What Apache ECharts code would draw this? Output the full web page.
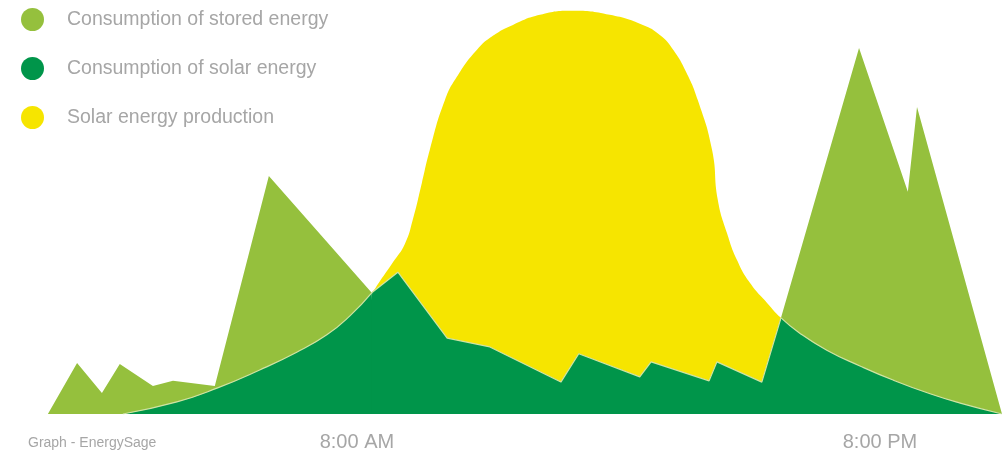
<!DOCTYPE html>
<html>
<head>
<meta charset="utf-8">
<script src="https://cdn.jsdelivr.net/npm/echarts@6.0.0/dist/echarts.min.js"></script>
<style>
    html, body { margin: 0; padding: 0; background: #fff; }
    #container { width: 1007px; height: 456px; }
</style>
</head>
<body>
<div id="container"></div>
<script>
// hours of the day / relative energy (0-100)
var seriesNames = ['Consumption of stored energy', 'Consumption of solar energy', 'Solar energy production'];

var consumptionHours = [0.91, 1.58, 2.15, 2.56, 3.32, 3.78, 4.74, 5.98, 8.34, 8.94, 10.07, 11.05, 12.68, 13.09, 14.49, 14.75, 16.08, 16.26, 17.29, 17.73, 19.52, 20.64, 20.85, 22.80];
var consumptionValues = [0, 12.6, 5.2, 12.4, 6.9, 8.2, 6.9, 58.9, 30.0, 35.1, 18.8, 16.6, 7.9, 14.9, 9.2, 12.9, 8.2, 12.9, 7.9, 23.8, 90.6, 55.0, 76.0, 0];

var solarHours = [2.63, 3.87, 4.79, 5.77, 6.62, 7.31, 7.84, 8.34, 8.53, 8.83, 9.10, 9.28, 9.49, 9.67, 10.02, 10.32, 10.75, 11.12, 11.58, 12.20, 12.93, 13.80, 14.56, 14.95, 15.26, 15.55, 15.82, 16.15, 16.28, 16.49, 16.72, 17.02, 17.41, 17.73, 18.16, 18.78, 19.54, 20.30, 21.15, 21.84, 22.80];
var solarValues = [0, 3.0, 6.4, 10.9, 15.3, 19.6, 24.3, 30.0, 32.9, 37.6, 42.1, 48.0, 57.2, 65.3, 77.7, 83.9, 90.1, 93.6, 96.3, 98.8, 99.8, 98.8, 96.3, 93.8, 90.1, 84.7, 77.7, 65.3, 53.0, 44.8, 38.1, 32.4, 27.5, 23.8, 20.0, 15.8, 11.9, 8.4, 5.0, 2.7, 0];

var tickHours = [8, 20];
var tickLabels = ['8:00 AM', '8:00 PM'];

// stretch where the sun covers all of the consumption
var solarFrom = 8.34, solarTo = 17.73;

function pairs(xs, ys, lo, hi) {
    var out = [];
    for (var i = 0; i < xs.length; i++) {
        if (xs[i] >= lo && xs[i] <= hi) out.push([xs[i], ys[i]]);
    }
    return out;
}

// middle dark piece, tucked under the curved pieces at both ends (no seam)
var middle = pairs(consumptionHours, consumptionValues, solarFrom, solarTo);
middle.unshift([solarHours[solarHours.indexOf(solarFrom) - 1], 0]);
middle.push([solarHours[solarHours.indexOf(solarTo) + 1], 0]);

var dom = document.getElementById('container');
var myChart = echarts.init(dom);
var option = null;

var darkGreen = '#00954a';
var edge = { width: 1.2, color: '#cfe3a4' };

option = {
    animation: false,
    title: {
        text: 'Graph - EnergySage',
        left: 28,
        top: 436,
        padding: 0,
        textStyle: { color: '#a6a6a6', fontSize: 14, fontWeight: 'normal', fontFamily: 'Liberation Sans' }
    },
    legend: {
        orient: 'vertical',
        left: 21,
        top: 8,
        padding: 0,
        icon: 'circle',
        itemWidth: 23,
        itemHeight: 23,
        itemGap: 26,
        data: seriesNames,
        textStyle: { color: '#a6a6a6', fontSize: 19.5, fontFamily: 'Liberation Sans', padding: [0, 0, 0, 18] }
    },
    grid: { left: 47, right: 5, top: 10, bottom: 42 },
    xAxis: {
        type: 'value',
        min: 0.89,
        max: 22.8,
        axisLine: { show: false },
        axisTick: { show: false },
        splitLine: { show: false },
        axisLabel: {
            customValues: tickHours,
            margin: 18,
            color: '#a6a6a6',
            fontSize: 20,
            fontFamily: 'Liberation Sans',
            formatter: function (v) {
                var i = tickHours.indexOf(v);
                return i >= 0 ? tickLabels[i] : '';
            }
        }
    },
    yAxis: { type: 'value', min: 0, max: 100, show: false, splitLine: { show: false } },
    series: [
        {
            name: seriesNames[2], type: 'line', smooth: 0.5, showSymbol: false, z: 1,
            itemStyle: { color: '#f6e500' }, lineStyle: { width: 0 },
            areaStyle: { color: '#f6e500', opacity: 1 },
            data: pairs(solarHours, solarValues, -1, 99)
        },
        {
            name: seriesNames[0], type: 'line', showSymbol: false, z: 2,
            itemStyle: { color: '#95c03d' }, lineStyle: { width: 0 },
            areaStyle: { color: '#95c03d', opacity: 1 },
            data: pairs(consumptionHours, consumptionValues, -1, 99)
        },
        {
            name: seriesNames[1], type: 'line', showSymbol: false, z: 3,
            itemStyle: { color: darkGreen }, lineStyle: edge,
            areaStyle: { color: darkGreen, opacity: 1 },
            data: middle
        },
        {
            name: seriesNames[1], type: 'line', smooth: 0.5, showSymbol: false, z: 4,
            itemStyle: { color: darkGreen }, lineStyle: edge,
            areaStyle: { color: darkGreen, opacity: 1 },
            data: pairs(solarHours, solarValues, -1, solarFrom)
        },
        {
            name: seriesNames[1], type: 'line', smooth: 0.5, showSymbol: false, z: 4,
            itemStyle: { color: darkGreen }, lineStyle: edge,
            areaStyle: { color: darkGreen, opacity: 1 },
            data: pairs(solarHours, solarValues, solarTo, 99)
        }
    ]
};

if (option && typeof option === 'object') {
    myChart.setOption(option, true);
}
</script>
</body>
</html>
